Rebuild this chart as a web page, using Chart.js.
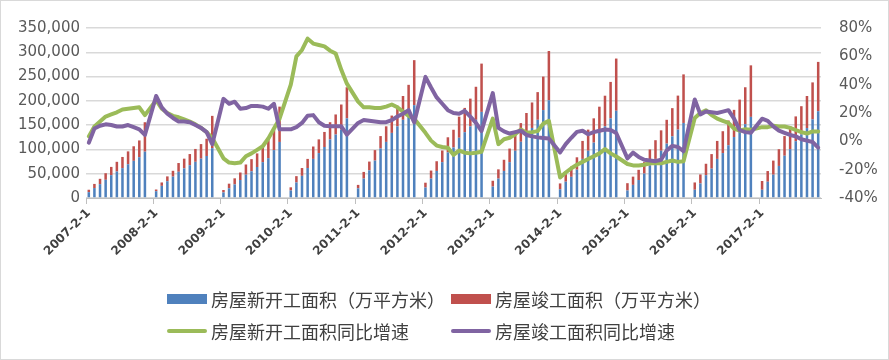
<!DOCTYPE html>
<html>
<head>
<meta charset="utf-8">
<script src="https://cdn.jsdelivr.net/npm/chart.js@4.4.1/dist/chart.umd.min.js"></script>
<style>
    html, body { margin: 0; padding: 0; background: #fff; }
    .wrap { position: relative; width: 889px; height: 360px; box-sizing: border-box; border: 1px solid #d9d9d9; }
    canvas { position: absolute; left: 0; top: 0; }
    .legend { position: absolute; left: 0; top: 0; font-family: "Noto Sans CJK SC", sans-serif; font-size: 18px; color: #404040; }
    .legend .item { position: absolute; display: flex; align-items: center; height: 24px; white-space: nowrap; }
    .legend .box { width: 40px; height: 10px; margin-right: 4px; }
    .legend .line { width: 40px; height: 4px; border-radius: 2px; margin-right: 4px; }
</style>
</head>
<body>
<div class="wrap">
    <canvas id="chart" width="889" height="360"></canvas>
    <div class="legend" id="legend"></div>
</div>
<script>
// Year tick labels on the category axis
const tickLabels = ['2007-2-1', '2008-2-1', '2009-2-1', '2010-2-1', '2011-2-1', '2012-2-1',
    '2013-2-1', '2014-2-1', '2015-2-1', '2016-2-1', '2017-2-1'];

// Monthly categories, 2007-2 .. 2017-12 (January has no data)
const categories = [];
for (let y = 2007; y <= 2017; y++) {
    for (let m = (y === 2007 ? 2 : 1); m <= 12; m++) categories.push(y + '-' + m + '-1');
}

// 房屋新开工面积 cumulative (万平方米)
const newStartArea = [
    12000, 20500, 28500, 37500, 47000, 54500, 61500, 69500, 76500, 84000, 95400,
    null, 14000, 25000, 34500, 44000, 54000, 61000, 67500, 74500, 81000, 86500, 102600,
    null, 11500, 20000, 28000, 37000, 48000, 55000, 63800, 73800, 82000, 98600, 115400,
    null, 15500, 32000, 45600, 61700, 80500, 92500, 105000, 120700, 130700, 140800, 164000,
    null, 20000, 40000, 57000, 77000, 102000, 115500, 134000, 147600, 161000, 175800, 191200,
    null, 21500, 40000, 55700, 73800, 94000, 104000, 124000, 135500, 147600, 161000, 177300,
    null, 23500, 40000, 55700, 73800, 97300, 115700, 128000, 144200, 161000, 181000, 201200,
    null, 18000, 33600, 43600, 58300, 80500, 97300, 114000, 134000, 147600, 164000, 179600,
    null, 15500, 27000, 37000, 50300, 67000, 80500, 97300, 112000, 127000, 140800, 154500,
    null, 17000, 30000, 47000, 60400, 80500, 92500, 108600, 125500, 137600, 152000, 167000,
    null, 17000, 33500, 48000, 66000, 87000, 100600, 117000, 131000, 144000, 162000, 178700
];

// 房屋竣工面积 cumulative (万平方米)
const completedArea = [
    5000, 8500, 11000, 13500, 17000, 20000, 23000, 26500, 30000, 34500, 60600,
    null, 3500, 7000, 10000, 12000, 18000, 20000, 23000, 26500, 30000, 35500, 66500,
    null, 5000, 9500, 12500, 15500, 21000, 25000, 28000, 33000, 37000, 42500, 72700,
    null, 6500, 13000, 16100, 18800, 25500, 28200, 31000, 35300, 41300, 51700, 64000,
    null, 7000, 13700, 18000, 21600, 25500, 32100, 35700, 42400, 49000, 57200, 92600,
    null, 10000, 16500, 20000, 24000, 31000, 36500, 43500, 50000, 57000, 68000, 99400,
    null, 12000, 19000, 23000, 28000, 33500, 38500, 47000, 52500, 57000, 69000, 101400,
    null, 12000, 15500, 21000, 25500, 37000, 43500, 50000, 54000, 63000, 75000, 107500,
    null, 15000, 17000, 21000, 23500, 33000, 38500, 42000, 49000, 58000, 70000, 100000,
    null, 15000, 18500, 23500, 30000, 37000, 45000, 51000, 56000, 65000, 76000, 106100,
    null, 18000, 22000, 29000, 34500, 40500, 47000, 51000, 58000, 66000, 76000, 101500
];

// 房屋新开工面积同比增速 (%)
const newStartGrowth = [
    3.5, 10.5, 14, 17.5, 19, 20.5, 22.5, 23, 23.5, 24, 18.5,
    null, 29, 23, 20, 18, 17, 15.5, 14, 12, 9.5, 6.5, 2.3,
    null, -12, -15, -15.5, -15, -10.5, -8.5, -6, -3.5, 2, 9, 16,
    null, 40, 60, 64.5, 72.5, 69, 68, 67, 64, 62, 50.5, 40.7,
    null, 28, 24, 24, 23.5, 23.5, 24.5, 26, 24, 21, 18, 16,
    null, 6, 0.5, -3, -4, -4.5, -9.5, -6.5, -8, -8.5, -8, -7.3,
    null, 16, -2, 1.5, 2.5, 5, 8.3, 6, 6.5, 7.2, 12.5, 14.5,
    null, -25.5, -22, -19, -16.5, -14.5, -12.5, -10.5, -8.5, -5.5, -8.5, -10.7,
    null, -16, -17, -17, -16.5, -15.5, -15.5, -15.5, -14.5, -13.5, -14.5, -14,
    null, 16.5, 20, 22, 18.5, 16, 14.5, 13, 9, 7.5, 8.5, 8.1,
    null, 10, 10, 11, 10.5, 10.5, 9.5, 8, 6.5, 5.5, 7, 7
];

// 房屋竣工面积同比增速 (%)
const completedGrowth = [
    -1, 9, 11, 12, 11.5, 10.5, 10.5, 11.5, 10, 8.5, 4.5,
    null, 32, 24, 19.5, 16.5, 14, 14, 13.5, 11.5, 9.5, 6.5, -2,
    null, 30, 26.5, 28, 23, 23.5, 25, 25, 24.5, 23, 26.5, 8.5,
    null, 8.5, 10, 13, 18, 18.5, 13.5, 11, 10.6, 10.6, 10.6, 4.8,
    null, 13, 15, 14.5, 14, 13.5, 13.5, 15, 17.5, 19.5, 22, 13.3,
    null, 45.5, 38, 31, 26.5, 22, 20, 19.5, 21.5, 17.5, 13, 7.3,
    null, 34, 9.5, 7, 5.5, 6.5, 7.5, 4.5, 3.5, 2.8, 2.4, 2,
    null, -7.8, -2, 2.5, 6.7, 7.5, 5, 6.5, 7.5, 8.3, 8, 5.9,
    null, -12, -8, -11, -13, -13.5, -14, -13, -6.5, -3.2, -4, -6.9,
    null, 29.5, 19, 21, 20.5, 20, 21, 22, 16, 8, 6.5, 6.1,
    null, 16, 14.5, 10.5, 7.5, 6, 4.5, 3.5, 1.5, 0.5, -0.5, -4.4
];

const BLUE = '#4F81BD';
const RED = '#C0504D';
const GREEN = '#9BBB59';
const PURPLE = '#8064A2';

const datasets = [
    { type: 'bar', label: '房屋新开工面积（万平方米）', data: newStartArea, backgroundColor: BLUE,
      yAxisID: 'y', order: 2, barPercentage: 0.45, categoryPercentage: 1 },
    { type: 'bar', label: '房屋竣工面积（万平方米）', data: completedArea, backgroundColor: RED,
      yAxisID: 'y', order: 2, barPercentage: 0.45, categoryPercentage: 1 },
    { type: 'line', label: '房屋新开工面积同比增速', data: newStartGrowth, borderColor: GREEN,
      backgroundColor: GREEN, borderWidth: 4, pointRadius: 0, tension: 0, spanGaps: true,
      borderJoinStyle: 'round', borderCapStyle: 'round', yAxisID: 'y1', order: 1 },
    { type: 'line', label: '房屋竣工面积同比增速', data: completedGrowth, borderColor: PURPLE,
      backgroundColor: PURPLE, borderWidth: 4, pointRadius: 0, tension: 0, spanGaps: true,
      borderJoinStyle: 'round', borderCapStyle: 'round', yAxisID: 'y1', order: 0 }
];

const tickFont = { family: 'DejaVu Sans', size: 15 };

new Chart(document.getElementById('chart'), {
    data: { labels: categories, datasets: datasets },
    options: {
        responsive: false,
        animation: false,
        layout: { padding: { left: 0, right: 0, top: 22, bottom: 100 } },
        plugins: { legend: { display: false }, tooltip: { enabled: false } },
        scales: {
            x: {
                stacked: true,
                offset: true,
                border: { display: true, color: '#bfbfbf' },
                grid: {
                    offset: true,
                    drawOnChartArea: false,
                    tickLength: 6,
                    color: ctx => (ctx.index % 12 === 0 ? '#bfbfbf' : 'rgba(0,0,0,0)')
                },
                ticks: {
                    autoSkip: false,
                    minRotation: 45,
                    maxRotation: 45,
                    padding: 2,
                    color: '#404040',
                    font: { family: 'DejaVu Sans', size: 12, weight: 'bold' },
                    callback: function(value, index) {
                        return tickLabels.includes(categories[index]) ? categories[index] : '';
                    }
                },
                afterFit: s => { s.height = 63; }
            },
            y: {
                stacked: true,
                position: 'left',
                min: 0,
                max: 350000,
                border: { display: false },
                grid: { color: '#d9d9d9', lineWidth: 1.5, drawTicks: false },
                ticks: { stepSize: 50000, padding: 6, color: '#595959', font: tickFont },
                afterFit: s => { s.width = 85; }
            },
            y1: {
                position: 'right',
                min: -40,
                max: 80,
                border: { display: false },
                grid: { drawOnChartArea: false, drawTicks: false },
                ticks: { stepSize: 20, padding: 18, color: '#595959', font: tickFont,
                         callback: v => v + '%' },
                afterFit: s => { s.width = 69; }
            }
        }
    }
});

// Legend laid out in two columns like the original
const legendItems = [
    { text: datasets[0].label, color: BLUE, kind: 'box', x: 166, y: 286 },
    { text: datasets[1].label, color: RED, kind: 'box', x: 450, y: 286 },
    { text: datasets[2].label, color: GREEN, kind: 'line', x: 166, y: 318 },
    { text: datasets[3].label, color: PURPLE, kind: 'line', x: 450, y: 318 }
];
const legendEl = document.getElementById('legend');
legendEl.innerHTML = legendItems.map(item => `
    <div class="item" style="left:${item.x}px; top:${item.y}px;">
        <span class="${item.kind}" style="background:${item.color}"></span>${item.text}
    </div>`).join('');
</script>
</body>
</html>
